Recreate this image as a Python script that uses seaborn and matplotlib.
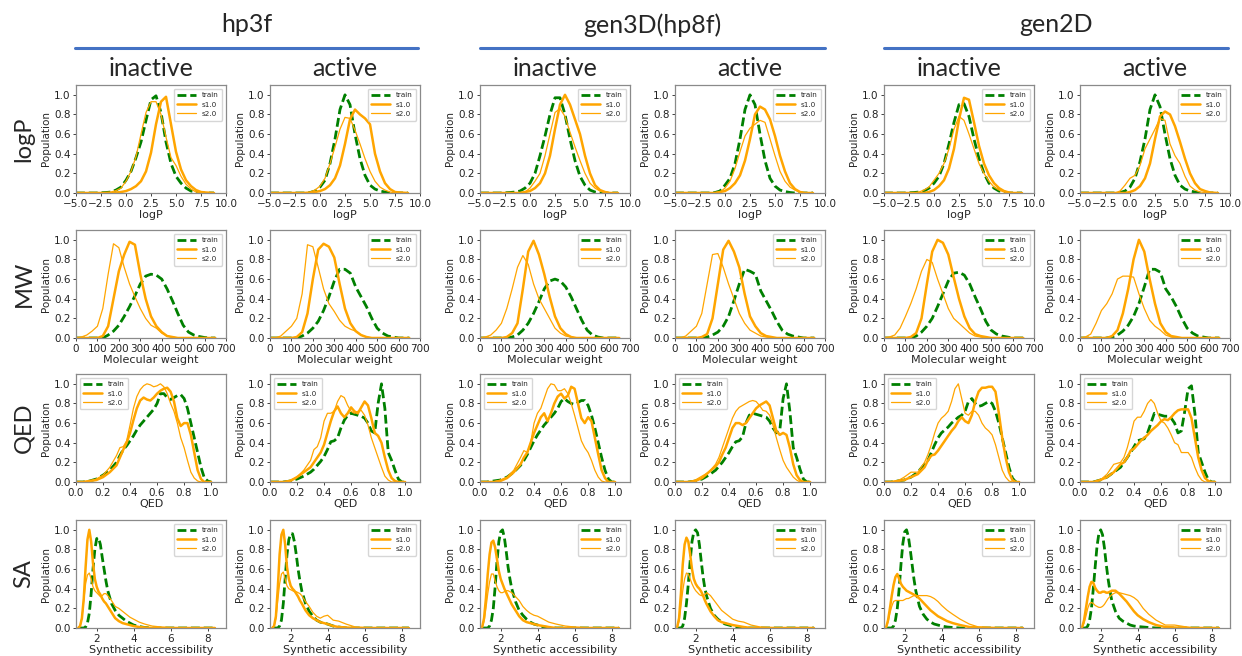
import numpy as np
import pandas as pd
import seaborn as sns
import matplotlib.pyplot as plt
from matplotlib.lines import Line2D

sns.set_theme(style='ticks')
plt.rcParams['font.family'] = ['DejaVu Sans']
head_font = ['Lato', 'DejaVu Sans']

# ---------------- data ----------------
logp_grid = [-5, -3, -2, -1.5, -1, -0.5, 0, 0.5, 1, 1.5, 2, 2.5, 3, 3.5, 4, 4.5,
             5, 5.5, 6, 6.5, 7, 7.5, 8, 8.8]

logp_hp3f_in_train = [0, 0, 0.005, 0.01, 0.03, 0.06, 0.13, 0.22, 0.36, 0.52, 0.74, 0.95, 0.99, 0.82, 0.52, 0.3, 0.17, 0.1, 0.05, 0.02, 0.01, 0, 0, 0]
logp_hp3f_in_s1 = [0, 0, 0, 0, 0.005, 0.01, 0.02, 0.04, 0.07, 0.12, 0.22, 0.41, 0.7, 0.93, 0.98, 0.7, 0.42, 0.24, 0.13, 0.07, 0.03, 0.01, 0.005, 0]
logp_hp3f_in_s2 = [0, 0, 0.005, 0.01, 0.025, 0.05, 0.12, 0.22, 0.37, 0.6, 0.82, 0.93, 0.93, 0.8, 0.57, 0.36, 0.28, 0.17, 0.09, 0.04, 0.01, 0, 0, 0]
logp_hp3f_act_train = [0, 0, 0, 0, 0.005, 0.02, 0.06, 0.13, 0.3, 0.55, 0.85, 1.0, 0.9, 0.6, 0.35, 0.18, 0.08, 0.04, 0.02, 0.01, 0, 0, 0, 0]
logp_hp3f_act_s1 = [0, 0, 0, 0, 0, 0.01, 0.02, 0.04, 0.08, 0.15, 0.28, 0.5, 0.75, 0.85, 0.8, 0.76, 0.7, 0.4, 0.22, 0.1, 0.04, 0.01, 0.005, 0]
logp_hp3f_act_s2 = [0, 0, 0, 0.005, 0.01, 0.03, 0.07, 0.15, 0.3, 0.47, 0.65, 0.77, 0.76, 0.64, 0.5, 0.35, 0.22, 0.12, 0.06, 0.03, 0.01, 0, 0, 0]
logp_gen3d_in_train = [0, 0, 0.005, 0.01, 0.02, 0.05, 0.1, 0.2, 0.38, 0.58, 0.8, 0.97, 0.97, 0.8, 0.55, 0.33, 0.17, 0.08, 0.03, 0.01, 0, 0, 0, 0]
logp_gen3d_in_s1 = [0, 0, 0, 0, 0, 0.01, 0.02, 0.05, 0.1, 0.2, 0.38, 0.65, 0.9, 1.0, 0.9, 0.75, 0.6, 0.38, 0.2, 0.08, 0.03, 0.01, 0, 0]
logp_gen3d_in_s2 = [0, 0, 0, 0, 0.005, 0.01, 0.05, 0.12, 0.2, 0.38, 0.6, 0.82, 0.86, 0.78, 0.62, 0.47, 0.33, 0.2, 0.1, 0.05, 0.02, 0, 0, 0]
logp_gen3d_act_train = [0, 0, 0, 0, 0.005, 0.02, 0.08, 0.15, 0.3, 0.55, 0.85, 1.0, 0.9, 0.6, 0.33, 0.15, 0.07, 0.03, 0.015, 0.005, 0, 0, 0, 0]
logp_gen3d_act_s1 = [0, 0, 0, 0, 0, 0.01, 0.02, 0.05, 0.1, 0.18, 0.33, 0.55, 0.8, 0.88, 0.85, 0.75, 0.58, 0.38, 0.22, 0.1, 0.04, 0.01, 0, 0]
logp_gen3d_act_s2 = [0, 0, 0, 0, 0.005, 0.01, 0.05, 0.12, 0.25, 0.42, 0.58, 0.66, 0.7, 0.74, 0.72, 0.55, 0.38, 0.22, 0.12, 0.06, 0.03, 0.01, 0, 0]
logp_gen2d_in_train = [0, 0, 0.005, 0.01, 0.02, 0.05, 0.1, 0.17, 0.3, 0.5, 0.72, 0.9, 0.91, 0.78, 0.55, 0.35, 0.2, 0.1, 0.05, 0.02, 0.01, 0, 0, 0]
logp_gen2d_in_s1 = [0, 0, 0, 0, 0, 0.01, 0.03, 0.07, 0.13, 0.25, 0.45, 0.75, 0.97, 0.95, 0.72, 0.48, 0.3, 0.18, 0.1, 0.05, 0.02, 0.005, 0, 0]
logp_gen2d_in_s2 = [0, 0, 0, 0.01, 0.03, 0.06, 0.13, 0.2, 0.3, 0.45, 0.65, 0.78, 0.74, 0.6, 0.45, 0.3, 0.2, 0.12, 0.06, 0.03, 0.01, 0, 0, 0]
logp_gen2d_act_train = [0, 0, 0, 0, 0.005, 0.02, 0.06, 0.15, 0.32, 0.55, 0.85, 1.0, 0.88, 0.6, 0.35, 0.18, 0.08, 0.04, 0.02, 0.01, 0, 0, 0, 0]
logp_gen2d_act_s1 = [0, 0, 0, 0, 0, 0, 0.01, 0.03, 0.07, 0.15, 0.3, 0.55, 0.78, 0.83, 0.8, 0.68, 0.52, 0.35, 0.2, 0.1, 0.04, 0.02, 0.005, 0]
logp_gen2d_act_s2 = [0, 0, 0, 0, 0.02, 0.08, 0.15, 0.18, 0.28, 0.45, 0.55, 0.65, 0.76, 0.74, 0.5, 0.38, 0.3, 0.17, 0.07, 0.03, 0.01, 0.005, 0, 0]

mw_grid = [0, 25, 50, 75, 100, 125, 150, 175, 200, 225, 250, 275, 300, 325, 350,
           375, 400, 425, 450, 475, 500, 525, 550, 575, 600, 625, 650]

mw_hp3f_in_train = [0, 0, 0, 0, 0, 0, 0.03, 0.07, 0.13, 0.22, 0.32, 0.43, 0.55, 0.63, 0.65, 0.64, 0.6, 0.5, 0.38, 0.25, 0.13, 0.06, 0.03, 0.015, 0.005, 0, 0]
mw_hp3f_in_s1 = [0, 0, 0, 0, 0, 0.02, 0.12, 0.4, 0.68, 0.85, 0.98, 0.95, 0.65, 0.4, 0.22, 0.12, 0.06, 0.02, 0.01, 0, 0, 0, 0, 0, 0, 0, 0]
mw_hp3f_in_s2 = [0, 0.01, 0.03, 0.07, 0.12, 0.3, 0.65, 0.96, 0.92, 0.72, 0.55, 0.42, 0.3, 0.2, 0.13, 0.1, 0.05, 0.02, 0.01, 0, 0, 0, 0, 0, 0, 0, 0]
mw_hp3f_act_train = [0, 0, 0, 0, 0, 0, 0.02, 0.05, 0.1, 0.17, 0.28, 0.42, 0.58, 0.7, 0.7, 0.66, 0.52, 0.42, 0.32, 0.2, 0.1, 0.05, 0.02, 0.01, 0, 0, 0]
mw_hp3f_act_s1 = [0, 0, 0, 0, 0, 0.01, 0.06, 0.25, 0.6, 0.9, 0.96, 0.93, 0.82, 0.55, 0.3, 0.15, 0.07, 0.03, 0.01, 0, 0, 0, 0, 0, 0, 0, 0]
mw_hp3f_act_s2 = [0, 0, 0.02, 0.07, 0.12, 0.2, 0.45, 0.95, 0.93, 0.72, 0.5, 0.35, 0.27, 0.18, 0.12, 0.09, 0.07, 0.03, 0.01, 0, 0, 0, 0, 0, 0, 0, 0]
mw_gen3d_in_train = [0, 0, 0, 0, 0, 0, 0.01, 0.03, 0.08, 0.15, 0.25, 0.37, 0.5, 0.58, 0.6, 0.58, 0.52, 0.42, 0.3, 0.18, 0.08, 0.03, 0.01, 0, 0, 0, 0]
mw_gen3d_in_s1 = [0, 0, 0, 0, 0, 0.01, 0.05, 0.15, 0.5, 0.88, 0.99, 0.85, 0.65, 0.42, 0.22, 0.1, 0.04, 0.01, 0, 0, 0, 0, 0, 0, 0, 0, 0]
mw_gen3d_in_s2 = [0, 0.01, 0.03, 0.08, 0.15, 0.3, 0.5, 0.72, 0.84, 0.75, 0.55, 0.4, 0.3, 0.2, 0.1, 0.05, 0.02, 0.01, 0, 0, 0, 0, 0, 0, 0, 0, 0]
mw_gen3d_act_train = [0, 0, 0, 0, 0, 0, 0.01, 0.03, 0.06, 0.12, 0.22, 0.38, 0.55, 0.7, 0.68, 0.65, 0.48, 0.38, 0.28, 0.17, 0.08, 0.04, 0.02, 0.01, 0, 0, 0]
mw_gen3d_act_s1 = [0, 0, 0, 0, 0, 0.01, 0.04, 0.2, 0.55, 0.9, 0.99, 0.88, 0.72, 0.45, 0.22, 0.12, 0.05, 0.02, 0.01, 0, 0, 0, 0, 0, 0, 0, 0]
mw_gen3d_act_s2 = [0, 0, 0.02, 0.07, 0.12, 0.25, 0.55, 0.85, 0.86, 0.72, 0.55, 0.4, 0.25, 0.15, 0.08, 0.05, 0.02, 0.01, 0, 0, 0, 0, 0, 0, 0, 0, 0]
mw_gen2d_in_train = [0, 0, 0, 0, 0, 0, 0.02, 0.06, 0.12, 0.2, 0.32, 0.45, 0.58, 0.66, 0.67, 0.64, 0.55, 0.42, 0.3, 0.17, 0.08, 0.04, 0.02, 0.01, 0, 0, 0]
mw_gen2d_in_s1 = [0, 0, 0, 0, 0, 0.01, 0.05, 0.2, 0.55, 0.88, 1.0, 0.97, 0.85, 0.62, 0.4, 0.22, 0.1, 0.04, 0.02, 0.01, 0, 0, 0, 0, 0, 0, 0]
mw_gen2d_in_s2 = [0, 0.01, 0.03, 0.1, 0.22, 0.35, 0.5, 0.68, 0.8, 0.77, 0.6, 0.45, 0.3, 0.2, 0.15, 0.1, 0.05, 0.02, 0.01, 0, 0, 0, 0, 0, 0, 0, 0]
mw_gen2d_act_train = [0, 0, 0, 0, 0, 0, 0.01, 0.03, 0.07, 0.13, 0.22, 0.35, 0.52, 0.7, 0.7, 0.67, 0.5, 0.42, 0.32, 0.2, 0.1, 0.05, 0.02, 0.01, 0, 0, 0]
mw_gen2d_act_s1 = [0, 0, 0, 0, 0, 0, 0.02, 0.08, 0.25, 0.5, 0.8, 1.0, 0.88, 0.6, 0.35, 0.15, 0.06, 0.02, 0.01, 0, 0, 0, 0, 0, 0, 0, 0]
mw_gen2d_act_s2 = [0, 0.01, 0.04, 0.15, 0.28, 0.35, 0.45, 0.6, 0.63, 0.63, 0.62, 0.45, 0.3, 0.18, 0.12, 0.08, 0.03, 0.01, 0, 0, 0, 0, 0, 0, 0, 0, 0]

qed_grid = [0, 0.05, 0.1, 0.15, 0.2, 0.25, 0.3, 0.325, 0.35, 0.375, 0.4, 0.425, 0.45,
            0.475, 0.5, 0.525, 0.55, 0.575, 0.6, 0.625, 0.65, 0.675, 0.7, 0.725, 0.75,
            0.775, 0.8, 0.825, 0.85, 0.875, 0.9, 0.925, 0.95, 0.975, 1.0]

qed_hp3f_in_train = [0, 0, 0.01, 0.03, 0.07, 0.12, 0.2, 0.27, 0.33, 0.37, 0.42, 0.47, 0.53, 0.58, 0.62, 0.66, 0.7, 0.74, 0.8, 0.9, 0.9, 0.86, 0.84, 0.86, 0.88, 0.89, 0.85, 0.75, 0.6, 0.45, 0.3, 0.15, 0.04, 0.01, 0]
qed_hp3f_in_s1 = [0, 0, 0.01, 0.02, 0.05, 0.1, 0.17, 0.25, 0.33, 0.4, 0.5, 0.63, 0.75, 0.83, 0.86, 0.84, 0.83, 0.86, 0.9, 0.93, 0.95, 0.96, 0.92, 0.82, 0.65, 0.57, 0.6, 0.6, 0.48, 0.3, 0.12, 0.03, 0, 0, 0]
qed_hp3f_in_s2 = [0, 0, 0.01, 0.03, 0.07, 0.15, 0.27, 0.35, 0.36, 0.42, 0.58, 0.75, 0.87, 0.94, 0.98, 1.0, 0.99, 0.97, 0.98, 1.0, 0.97, 0.9, 0.8, 0.72, 0.6, 0.45, 0.35, 0.22, 0.1, 0.04, 0.01, 0, 0, 0, 0]
qed_hp3f_act_train = [0, 0, 0, 0.01, 0.03, 0.06, 0.1, 0.13, 0.17, 0.21, 0.26, 0.33, 0.41, 0.42, 0.45, 0.55, 0.63, 0.68, 0.7, 0.69, 0.68, 0.67, 0.65, 0.6, 0.52, 0.5, 0.8, 1.0, 0.75, 0.3, 0.22, 0.12, 0.03, 0, 0]
qed_hp3f_act_s1 = [0, 0, 0, 0.01, 0.05, 0.1, 0.15, 0.2, 0.25, 0.3, 0.38, 0.5, 0.62, 0.72, 0.77, 0.7, 0.66, 0.7, 0.76, 0.72, 0.7, 0.76, 0.82, 0.78, 0.65, 0.5, 0.47, 0.4, 0.25, 0.12, 0.04, 0.01, 0, 0, 0]
qed_hp3f_act_s2 = [0, 0, 0, 0.02, 0.05, 0.12, 0.22, 0.33, 0.36, 0.45, 0.62, 0.7, 0.7, 0.72, 0.82, 0.88, 0.86, 0.78, 0.72, 0.7, 0.72, 0.73, 0.68, 0.58, 0.45, 0.35, 0.25, 0.15, 0.06, 0.02, 0, 0, 0, 0, 0]
qed_gen3d_in_train = [0, 0, 0.01, 0.02, 0.05, 0.1, 0.17, 0.22, 0.28, 0.35, 0.42, 0.48, 0.53, 0.58, 0.62, 0.66, 0.7, 0.75, 0.82, 0.85, 0.82, 0.8, 0.79, 0.81, 0.83, 0.83, 0.78, 0.68, 0.55, 0.4, 0.25, 0.12, 0.03, 0, 0]
qed_gen3d_in_s1 = [0, 0, 0, 0.01, 0.04, 0.1, 0.18, 0.25, 0.3, 0.4, 0.5, 0.58, 0.66, 0.7, 0.62, 0.7, 0.8, 0.87, 0.9, 0.85, 0.88, 0.97, 0.95, 0.8, 0.65, 0.6, 0.66, 0.62, 0.45, 0.28, 0.12, 0.04, 0, 0, 0]
qed_gen3d_in_s2 = [0, 0, 0, 0.02, 0.05, 0.12, 0.25, 0.32, 0.3, 0.4, 0.6, 0.7, 0.75, 0.85, 0.95, 1.0, 0.99, 0.93, 0.93, 0.95, 0.9, 0.8, 0.68, 0.55, 0.42, 0.35, 0.3, 0.22, 0.12, 0.05, 0.01, 0, 0, 0, 0]
qed_gen3d_act_train = [0, 0, 0, 0.01, 0.03, 0.07, 0.12, 0.16, 0.2, 0.25, 0.3, 0.36, 0.41, 0.42, 0.46, 0.6, 0.68, 0.7, 0.69, 0.68, 0.67, 0.66, 0.62, 0.55, 0.5, 0.52, 0.85, 1.0, 0.72, 0.35, 0.25, 0.13, 0.03, 0, 0]
qed_gen3d_act_s1 = [0, 0, 0, 0.01, 0.04, 0.1, 0.16, 0.2, 0.28, 0.35, 0.45, 0.55, 0.6, 0.6, 0.58, 0.6, 0.65, 0.7, 0.75, 0.78, 0.8, 0.82, 0.78, 0.65, 0.52, 0.48, 0.5, 0.48, 0.35, 0.18, 0.07, 0.02, 0, 0, 0]
qed_gen3d_act_s2 = [0, 0, 0, 0.02, 0.06, 0.1, 0.18, 0.25, 0.35, 0.45, 0.55, 0.65, 0.72, 0.76, 0.78, 0.8, 0.82, 0.83, 0.82, 0.78, 0.73, 0.72, 0.68, 0.58, 0.45, 0.33, 0.22, 0.15, 0.1, 0.05, 0.02, 0, 0, 0, 0]
qed_gen2d_in_train = [0, 0, 0.01, 0.02, 0.05, 0.1, 0.18, 0.22, 0.3, 0.38, 0.45, 0.5, 0.53, 0.56, 0.6, 0.63, 0.66, 0.68, 0.72, 0.82, 0.85, 0.8, 0.77, 0.78, 0.8, 0.82, 0.8, 0.72, 0.6, 0.45, 0.3, 0.15, 0.04, 0, 0]
qed_gen2d_in_s1 = [0, 0, 0.01, 0.02, 0.05, 0.08, 0.15, 0.22, 0.27, 0.28, 0.32, 0.37, 0.42, 0.47, 0.52, 0.56, 0.62, 0.66, 0.62, 0.6, 0.68, 0.82, 0.92, 0.96, 0.96, 0.97, 0.97, 0.92, 0.7, 0.45, 0.25, 0.1, 0.02, 0, 0]
qed_gen2d_in_s2 = [0, 0, 0.01, 0.05, 0.1, 0.1, 0.2, 0.28, 0.38, 0.5, 0.6, 0.65, 0.68, 0.72, 0.82, 0.95, 1.0, 0.85, 0.7, 0.68, 0.72, 0.72, 0.68, 0.6, 0.55, 0.52, 0.48, 0.38, 0.25, 0.12, 0.05, 0.01, 0, 0, 0]
qed_gen2d_act_train = [0, 0, 0, 0.02, 0.05, 0.1, 0.15, 0.2, 0.25, 0.3, 0.36, 0.42, 0.43, 0.44, 0.5, 0.6, 0.7, 0.69, 0.68, 0.67, 0.67, 0.65, 0.6, 0.5, 0.52, 0.72, 0.95, 0.98, 0.7, 0.3, 0.2, 0.1, 0.02, 0, 0]
qed_gen2d_act_s1 = [0, 0, 0, 0.02, 0.05, 0.1, 0.18, 0.2, 0.25, 0.32, 0.34, 0.38, 0.42, 0.45, 0.48, 0.52, 0.55, 0.58, 0.62, 0.64, 0.63, 0.66, 0.7, 0.73, 0.74, 0.74, 0.74, 0.65, 0.45, 0.25, 0.12, 0.04, 0.01, 0, 0]
qed_gen2d_act_s2 = [0, 0, 0, 0.02, 0.08, 0.18, 0.2, 0.25, 0.35, 0.48, 0.62, 0.66, 0.66, 0.72, 0.8, 0.84, 0.8, 0.7, 0.62, 0.6, 0.55, 0.48, 0.4, 0.38, 0.3, 0.3, 0.3, 0.25, 0.15, 0.07, 0.02, 0, 0, 0, 0]

sa_grid = [1.0, 1.1, 1.2, 1.3, 1.4, 1.5, 1.6, 1.7, 1.8, 1.9, 2.0, 2.1, 2.2, 2.3, 2.4, 2.5,
           2.6, 2.8, 3.0, 3.2, 3.4, 3.6, 3.8, 4.0, 4.3, 4.6, 5.0, 5.5, 6.0, 7.0, 8.4]

sa_hp3f_in_train = [0, 0, 0, 0, 0.01, 0.05, 0.15, 0.35, 0.6, 0.8, 0.91, 0.92, 0.85, 0.72, 0.6, 0.48, 0.38, 0.25, 0.18, 0.13, 0.1, 0.07, 0.05, 0.03, 0.015, 0.005, 0, 0, 0, 0, 0]
sa_hp3f_in_s1 = [0, 0.02, 0.1, 0.3, 0.62, 0.9, 1.0, 0.88, 0.66, 0.5, 0.42, 0.37, 0.34, 0.3, 0.27, 0.25, 0.22, 0.16, 0.1, 0.07, 0.05, 0.04, 0.03, 0.02, 0.01, 0.005, 0, 0, 0, 0, 0]
sa_hp3f_in_s2 = [0, 0.02, 0.1, 0.28, 0.45, 0.54, 0.56, 0.5, 0.42, 0.38, 0.36, 0.34, 0.32, 0.33, 0.35, 0.35, 0.33, 0.28, 0.22, 0.2, 0.17, 0.14, 0.11, 0.09, 0.06, 0.04, 0.02, 0.01, 0.005, 0, 0]
sa_hp3f_act_train = [0, 0, 0, 0, 0.02, 0.08, 0.25, 0.5, 0.75, 0.9, 0.96, 0.96, 0.88, 0.75, 0.6, 0.48, 0.38, 0.25, 0.17, 0.12, 0.08, 0.06, 0.05, 0.04, 0.02, 0.01, 0, 0, 0, 0, 0]
sa_hp3f_act_s1 = [0, 0.02, 0.12, 0.4, 0.75, 0.95, 1.0, 0.85, 0.62, 0.5, 0.43, 0.4, 0.38, 0.35, 0.32, 0.28, 0.25, 0.18, 0.13, 0.1, 0.08, 0.06, 0.05, 0.04, 0.02, 0.01, 0.005, 0, 0, 0, 0]
sa_hp3f_act_s2 = [0, 0.02, 0.1, 0.28, 0.45, 0.55, 0.57, 0.5, 0.43, 0.4, 0.39, 0.38, 0.37, 0.37, 0.36, 0.35, 0.33, 0.27, 0.22, 0.16, 0.12, 0.1, 0.12, 0.13, 0.08, 0.07, 0.04, 0.01, 0.005, 0, 0]
sa_gen3d_in_train = [0, 0, 0, 0, 0.02, 0.08, 0.2, 0.42, 0.68, 0.88, 0.98, 1.0, 0.92, 0.78, 0.62, 0.5, 0.4, 0.27, 0.18, 0.13, 0.09, 0.06, 0.04, 0.03, 0.01, 0.005, 0, 0, 0, 0, 0]
sa_gen3d_in_s1 = [0.01, 0.1, 0.3, 0.55, 0.75, 0.87, 0.89, 0.82, 0.7, 0.58, 0.5, 0.45, 0.4, 0.36, 0.32, 0.28, 0.24, 0.18, 0.12, 0.08, 0.06, 0.05, 0.04, 0.03, 0.02, 0.01, 0, 0, 0, 0, 0]
sa_gen3d_in_s2 = [0.01, 0.07, 0.2, 0.35, 0.47, 0.55, 0.55, 0.48, 0.42, 0.38, 0.36, 0.36, 0.37, 0.38, 0.38, 0.37, 0.36, 0.32, 0.28, 0.22, 0.18, 0.15, 0.13, 0.12, 0.09, 0.06, 0.04, 0.02, 0.01, 0, 0]
sa_gen3d_act_train = [0, 0, 0, 0.02, 0.1, 0.25, 0.45, 0.68, 0.88, 0.98, 1.0, 0.97, 0.85, 0.68, 0.52, 0.4, 0.32, 0.2, 0.13, 0.09, 0.06, 0.04, 0.03, 0.02, 0.01, 0, 0, 0, 0, 0, 0]
sa_gen3d_act_s1 = [0.01, 0.1, 0.35, 0.65, 0.85, 0.92, 0.88, 0.75, 0.6, 0.5, 0.45, 0.42, 0.4, 0.37, 0.33, 0.28, 0.24, 0.17, 0.12, 0.08, 0.06, 0.05, 0.04, 0.03, 0.02, 0.01, 0, 0, 0, 0, 0]
sa_gen3d_act_s2 = [0.01, 0.07, 0.22, 0.38, 0.5, 0.56, 0.55, 0.5, 0.45, 0.41, 0.38, 0.36, 0.34, 0.33, 0.33, 0.34, 0.36, 0.33, 0.28, 0.23, 0.18, 0.15, 0.12, 0.09, 0.07, 0.06, 0.03, 0.01, 0.005, 0, 0]
sa_gen2d_in_train = [0, 0, 0, 0, 0.02, 0.08, 0.2, 0.4, 0.65, 0.86, 0.98, 1.0, 0.93, 0.8, 0.65, 0.5, 0.38, 0.22, 0.14, 0.09, 0.06, 0.04, 0.03, 0.02, 0.01, 0.005, 0, 0, 0, 0, 0]
sa_gen2d_in_s1 = [0.01, 0.08, 0.2, 0.33, 0.44, 0.52, 0.55, 0.5, 0.45, 0.42, 0.4, 0.38, 0.37, 0.36, 0.35, 0.34, 0.33, 0.3, 0.26, 0.22, 0.18, 0.15, 0.12, 0.1, 0.07, 0.05, 0.03, 0.01, 0.005, 0, 0]
sa_gen2d_in_s2 = [0.01, 0.06, 0.15, 0.22, 0.27, 0.28, 0.28, 0.28, 0.28, 0.28, 0.29, 0.3, 0.3, 0.31, 0.32, 0.33, 0.33, 0.33, 0.33, 0.33, 0.32, 0.3, 0.27, 0.23, 0.18, 0.14, 0.09, 0.04, 0.01, 0, 0]
sa_gen2d_act_train = [0, 0, 0, 0.02, 0.08, 0.2, 0.4, 0.62, 0.83, 0.96, 1.0, 0.95, 0.82, 0.65, 0.5, 0.38, 0.28, 0.17, 0.1, 0.07, 0.05, 0.03, 0.02, 0.015, 0.01, 0.005, 0, 0, 0, 0, 0]
sa_gen2d_act_s1 = [0.01, 0.08, 0.2, 0.32, 0.42, 0.47, 0.46, 0.41, 0.38, 0.36, 0.36, 0.37, 0.37, 0.36, 0.36, 0.37, 0.38, 0.38, 0.35, 0.31, 0.27, 0.22, 0.17, 0.13, 0.09, 0.06, 0.03, 0.01, 0.005, 0, 0]
sa_gen2d_act_s2 = [0.01, 0.05, 0.12, 0.2, 0.25, 0.26, 0.25, 0.23, 0.22, 0.21, 0.21, 0.22, 0.24, 0.27, 0.3, 0.32, 0.34, 0.36, 0.36, 0.35, 0.34, 0.33, 0.31, 0.28, 0.2, 0.14, 0.08, 0.03, 0.03, 0, 0]

groups = ['hp3f', 'gen3D(hp8f)', 'gen2D']
subsets = ['inactive', 'active']
row_names = ['logP', 'MW', 'QED', 'SA']
series_names = ['train', 's1.0', 's2.0']

# ---------------- assemble ----------------
row_grid = [logp_grid, mw_grid, qed_grid, sa_grid]
row_curves = [
    [(logp_hp3f_in_train, logp_hp3f_in_s1, logp_hp3f_in_s2),
     (logp_hp3f_act_train, logp_hp3f_act_s1, logp_hp3f_act_s2),
     (logp_gen3d_in_train, logp_gen3d_in_s1, logp_gen3d_in_s2),
     (logp_gen3d_act_train, logp_gen3d_act_s1, logp_gen3d_act_s2),
     (logp_gen2d_in_train, logp_gen2d_in_s1, logp_gen2d_in_s2),
     (logp_gen2d_act_train, logp_gen2d_act_s1, logp_gen2d_act_s2)],
    [(mw_hp3f_in_train, mw_hp3f_in_s1, mw_hp3f_in_s2),
     (mw_hp3f_act_train, mw_hp3f_act_s1, mw_hp3f_act_s2),
     (mw_gen3d_in_train, mw_gen3d_in_s1, mw_gen3d_in_s2),
     (mw_gen3d_act_train, mw_gen3d_act_s1, mw_gen3d_act_s2),
     (mw_gen2d_in_train, mw_gen2d_in_s1, mw_gen2d_in_s2),
     (mw_gen2d_act_train, mw_gen2d_act_s1, mw_gen2d_act_s2)],
    [(qed_hp3f_in_train, qed_hp3f_in_s1, qed_hp3f_in_s2),
     (qed_hp3f_act_train, qed_hp3f_act_s1, qed_hp3f_act_s2),
     (qed_gen3d_in_train, qed_gen3d_in_s1, qed_gen3d_in_s2),
     (qed_gen3d_act_train, qed_gen3d_act_s1, qed_gen3d_act_s2),
     (qed_gen2d_in_train, qed_gen2d_in_s1, qed_gen2d_in_s2),
     (qed_gen2d_act_train, qed_gen2d_act_s1, qed_gen2d_act_s2)],
    [(sa_hp3f_in_train, sa_hp3f_in_s1, sa_hp3f_in_s2),
     (sa_hp3f_act_train, sa_hp3f_act_s1, sa_hp3f_act_s2),
     (sa_gen3d_in_train, sa_gen3d_in_s1, sa_gen3d_in_s2),
     (sa_gen3d_act_train, sa_gen3d_act_s1, sa_gen3d_act_s2),
     (sa_gen2d_in_train, sa_gen2d_in_s1, sa_gen2d_in_s2),
     (sa_gen2d_act_train, sa_gen2d_act_s1, sa_gen2d_act_s2)],
]

x_labels = ['logP', 'Molecular weight', 'QED', 'Synthetic accessibility']
x_lims = [(-5, 10), (0, 700), (0, 1.11), (0.88, 9.0)]
x_ticks = [np.arange(-5, 10.1, 2.5), np.arange(0, 701, 100), np.arange(0, 1.01, 0.2), [2, 4, 6, 8]]
legend_loc = ['upper right', 'upper right', 'upper left', 'upper right']

styles = [dict(color='green', lw=2.0, ls=(0, (3.2, 1.4))),
          dict(color='orange', lw=1.8, ls='-'),
          dict(color='orange', lw=0.9, ls='-')]

# layout in pixels of the 1242x656 canvas
W, H = 1242, 656
col_left = [76, 270, 480, 675, 884, 1080]
row_top = [85, 230, 374, 520]
ax_w, ax_h = 150, 108

fig = plt.figure(figsize=(W / 100, H / 100), dpi=100)

for r in range(4):
    for c in range(6):
        ax = fig.add_axes([col_left[c] / W, 1 - (row_top[r] + ax_h) / H, ax_w / W, ax_h / H])
        df = pd.DataFrame({'x': row_grid[r]})
        for name, ys, st in zip(series_names, row_curves[r][c], styles):
            df[name] = ys
            sns.lineplot(data=df, x='x', y=name, ax=ax, color=st['color'],
                         linewidth=st['lw'], linestyle=st['ls'], label=name)
        ax.set_xlim(*x_lims[r])
        ax.set_ylim(0, 1.1)
        ax.set_xticks(x_ticks[r])
        ax.set_yticks(np.arange(0, 1.01, 0.2))
        ax.tick_params(labelsize=7.5, length=2.5, width=0.6, pad=1.5, colors='#222222')
        ax.set_xlabel(x_labels[r], fontsize=8, labelpad=1)
        ax.set_ylabel('Population', fontsize=7.5, labelpad=2)
        for sp in ax.spines.values():
            sp.set_visible(True)
            sp.set_color('#8a8a8a')
            sp.set_linewidth(0.9)
        ax.legend(loc=legend_loc[r], fontsize=5.2, handlelength=2.6, borderpad=0.5,
                  labelspacing=0.45, handletextpad=0.8, frameon=True, fancybox=True)

# group headers with blue rules
group_span = [(75, 418), (480, 825), (884, 1228)]
for g, (x0, x1) in zip(groups, group_span):
    fig.text((x0 + x1) / 2 / W, 1 - 25 / H, g, ha='center', va='center',
             fontsize=18, family=head_font)
    fig.add_artist(Line2D([x0 / W, x1 / W], [1 - 48 / H, 1 - 48 / H],
                          transform=fig.transFigure, color='#4472C4', lw=2.2))

for c in range(6):
    fig.text((col_left[c] + ax_w / 2) / W, 1 - 69 / H, subsets[c % 2], ha='center',
             va='center', fontsize=18, family=head_font)

for r in range(4):
    fig.text(24 / W, 1 - (row_top[r] + ax_h / 2) / H, row_names[r], ha='center',
             va='center', rotation=90, fontsize=17, family=head_font)

plt.savefig('out.png', dpi=100)
plt.close()
